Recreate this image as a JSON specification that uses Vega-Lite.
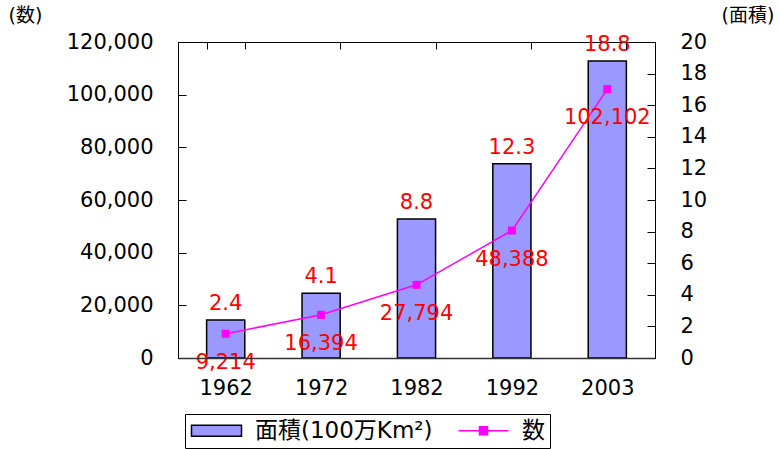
{
  "$schema": "https://vega.github.io/schema/vega-lite/v6.json",
  "width": 477,
  "height": 316,
  "autosize": {"type": "none"},
  "padding": {"left": 178, "top": 42, "right": 125, "bottom": 91},
  "background": "white",
  "data": {
    "values": [
      {"year": "1962", "area": 2.4, "count": 9214},
      {"year": "1972", "area": 4.1, "count": 16394},
      {"year": "1982", "area": 8.8, "count": 27794},
      {"year": "1992", "area": 12.3, "count": 48388},
      {"year": "2003", "area": 18.8, "count": 102102}
    ]
  },
  "config": {
    "font": "DejaVu Sans, Noto Sans CJK JP",
    "view": {"stroke": "black", "strokeWidth": 1},
    "axis": {
      "grid": true,
      "gridColor": "black",
      "gridOpacity": 1,
      "gridWidth": 1,
      "ticks": false,
      "domainColor": "black",
      "labelColor": "black",
      "titleColor": "black",
      "labelFontSize": 21,
      "labelFont": "DejaVu Sans",
      "labelOverlap": false,
      "titleFont": "DejaVu Sans, Noto Sans CJK JP",
      "titleFontWeight": "normal",
      "titleFontSize": 19
    },
    "text": {"font": "DejaVu Sans"}
  },
  "encoding": {
    "x": {
      "field": "year",
      "type": "nominal",
      "sort": null,
      "scale": {"paddingInner": 0.6, "paddingOuter": 0.3},
      "axis": {
        "title": null,
        "labelAngle": 0,
        "tickBand": "extent",
        "grid": true,
        "gridDash": [7, 2000],
        "labelPadding": 19,
        "labelOverlap": false,
        "domainWidth": 1.5,
        "domainColor": "#333333",
        "zindex": 1
      }
    }
  },
  "layer": [
    {
      "encoding": {
        "y": {
          "field": "area",
          "type": "quantitative",
          "scale": {"domain": [0, 20]},
          "axis": {
            "orient": "right",
            "values": [0, 2, 4, 6, 8, 10, 12, 14, 16, 18, 20],
            "tickCount": 11,
            "format": "d",
            "labelOverlap": false,
            "grid": true,
            "gridDash": [8, 2000],
            "title": "(面積)",
            "titleAngle": 0,
            "titleX": 66,
            "titleY": -21,
            "titleAlign": "left",
            "titleBaseline": "alphabetic",
            "labelPadding": 25,
            "zindex": 1
          }
        }
      },
      "layer": [
        {
          "mark": {"type": "bar", "stroke": "black", "strokeWidth": 1.5},
          "encoding": {
            "color": {
              "datum": "面積(100万Km²)",
              "type": "nominal",
              "scale": {"domain": ["面積(100万Km²)", "数"], "range": ["#9999ff", "#ff00ff"]},
              "legend": {
                "title": null,
                "orient": "none",
                "legendX": 7,
                "legendY": 372,
                "direction": "horizontal",
                "strokeColor": "black",
                "padding": 5,
                "labelFontSize": 23,
                "labelLimit": 400,
                "labelColor": "black",
                "labelFont": "DejaVu Sans, Noto Sans CJK JP",
                "symbolSize": 400,
                "labelOffset": 42,
                "columnPadding": 22,
                "encoding": {
                  "symbols": {
                    "shape": {"condition": {"test": "datum.value === '数'", "value": "M-1,0H4M1.1,-0.4H1.9V0.4H1.1Z"}, "value": "M-1,-0.55H4V0.55H-1Z"},
                    "stroke": {"condition": {"test": "datum.value === '数'", "value": "#ff00ff"}, "value": "#000000"},
                    "strokeWidth": {"value": 1.5},
                    "opacity": {"value": 1},
                    "fillOpacity": {"value": 1},
                    "strokeOpacity": {"value": 1}
                  }
                }
              }
            }
          }
        },
        {
          "mark": {"type": "text", "color": "red", "fontSize": 21, "dy": -10, "baseline": "alphabetic"},
          "encoding": {
            "text": {"field": "area", "type": "quantitative", "format": ".1f"}
          }
        }
      ]
    },
    {
      "encoding": {
        "y": {
          "field": "count",
          "type": "quantitative",
          "scale": {"domain": [0, 120000]},
          "axis": {
            "orient": "left",
            "values": [0, 20000, 40000, 60000, 80000, 100000, 120000],
            "tickCount": 7,
            "format": ",d",
            "labelOverlap": false,
            "grid": true,
            "gridDash": [8, 2000],
            "title": "(数)",
            "titleAngle": 0,
            "titleX": -170,
            "titleY": -21,
            "titleAlign": "left",
            "titleBaseline": "alphabetic",
            "labelPadding": 25,
            "zindex": 1
          }
        }
      },
      "layer": [
        {
          "mark": {"type": "line", "stroke": "#ff00ff", "strokeWidth": 1.5}
        },
        {
          "mark": {"type": "point", "shape": "square", "filled": true, "size": 64, "opacity": 1},
          "encoding": {
            "color": {"datum": "数", "type": "nominal"}
          }
        },
        {
          "mark": {"type": "text", "color": "red", "fontSize": 21, "dy": 35, "baseline": "alphabetic"},
          "encoding": {
            "text": {"field": "count", "type": "quantitative", "format": ",d"}
          }
        }
      ]
    }
  ],
  "resolve": {"scale": {"y": "independent"}}
}
